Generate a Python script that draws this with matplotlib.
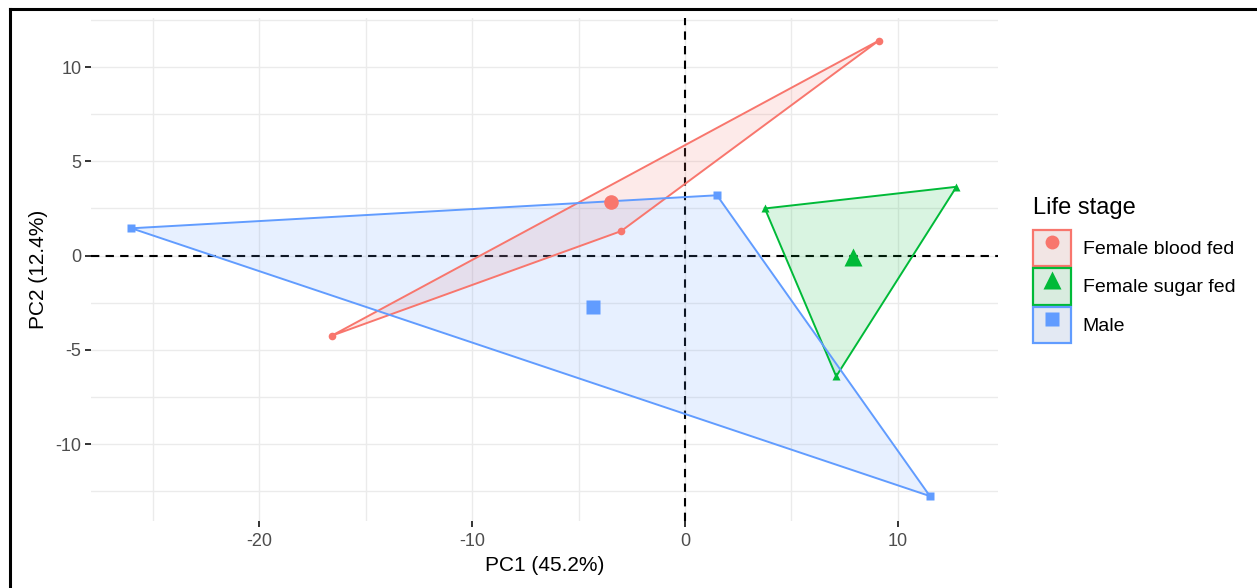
import matplotlib
matplotlib.use("Agg")
import matplotlib.pyplot as plt
from matplotlib.patches import Patch, Polygon
from matplotlib.lines import Line2D
from matplotlib.legend_handler import HandlerTuple

plt.rcParams['font.family'] = ['Liberation Sans', 'DejaVu Sans']
plt.rcParams['axes.unicode_minus'] = False

groups = ["Female blood fed", "Female sugar fed", "Male"]
colors = ["#F8766D", "#00BA38", "#619CFF"]
markers = ["o", "^", "s"]

blood_x = [9.1, -3.0, -16.6]
blood_y = [11.4, 1.3, -4.25]
sugar_x = [3.75, 12.75, 7.1]
sugar_y = [2.5, 3.65, -6.4]
male_x = [-26.0, 1.5, 11.5]
male_y = [1.45, 3.2, -12.75]

centroid_x = [-3.5, 7.9, -4.3]
centroid_y = [2.85, -0.05, -2.7]

xs = [blood_x, sugar_x, male_x]
ys = [blood_y, sugar_y, male_y]

fig = plt.figure(figsize=(12.57, 5.88), dpi=100)
ax = fig.add_axes([91/1257, 1-520.6/588, (998-91)/1257, (520.6-18)/588])

ax.set_xlim(-27.9, 14.7)
ax.set_ylim(-14.05, 12.6)
ax.set_xticks([-20, -10, 0, 10])
ax.set_yticks([-10, -5, 0, 5, 10])
ax.set_xticks([-25, -15, -5, 5], minor=True)
ax.set_yticks([-12.5, -7.5, -2.5, 2.5, 7.5, 12.5], minor=True)
ax.grid(True, which='major', color='#EBEBEB', lw=1.0)
ax.grid(True, which='minor', color='#EBEBEB', lw=1.0)
ax.set_axisbelow(True)
for s in ax.spines.values():
    s.set_visible(False)
ax.tick_params(which='major', length=4, width=1.4, color='#333333',
               labelcolor='#4D4D4D', labelsize=13, pad=3)
ax.tick_params(axis='x', which='major', pad=5)
ax.tick_params(which='minor', length=0)

ax.axhline(0, color='black', ls=(0, (4, 3)), lw=1.5, zorder=1.5)
ax.axvline(0, color='black', ls=(0, (4, 3)), lw=1.5, zorder=1.5)

for gx, gy, c in zip(xs, ys, colors):
    poly = Polygon(list(zip(gx, gy)), closed=True, facecolor=c, alpha=0.15,
                   edgecolor='none', zorder=2)
    ax.add_patch(poly)
    edge = Polygon(list(zip(gx, gy)), closed=True, facecolor='none',
                   edgecolor=c, lw=1.4, zorder=2.1)
    ax.add_patch(edge)

small_sizes = [5.5, 6.0, 5.5]
big_sizes = [10.5, 12.5, 10.0]
for gx, gy, cx, cy, c, m, ss, bs in zip(xs, ys, centroid_x, centroid_y,
                                         colors, markers, small_sizes, big_sizes):
    ax.plot(gx, gy, ls='none', marker=m, ms=ss, color=c, mec='none', zorder=3)
    ax.plot([cx], [cy], ls='none', marker=m, ms=bs, color=c, mec='none', zorder=3.5)

ax.set_xlabel("PC1 (45.2%)", fontsize=15, color='black', labelpad=4)
ax.set_ylabel("PC2 (12.4%)", fontsize=15, color='black', labelpad=5)

handles = []
leg_ms = [10.0, 13.0, 10.0]
for c, m, lms in zip(colors, markers, leg_ms):
    bg = Patch(facecolor='#F2F2F2', edgecolor='none')
    fg = Patch(facecolor=c, alpha=0.10, edgecolor='none')
    ed = Patch(facecolor='none', edgecolor=c, lw=1.6)
    mk = Line2D([], [], ls='none', marker=m, ms=lms, color=c, mec='none')
    handles.append((bg, fg, ed, mk))

leg = fig.legend(handles, groups, handler_map={tuple: HandlerTuple(ndivide=1, pad=0)},
                 loc='center left', bbox_to_anchor=(1033/1257, 1-270/588),
                 frameon=False, fontsize=14, title="Life stage", title_fontsize=17,
                 handlelength=1.95, handleheight=2.5, labelspacing=0.1,
                 handletextpad=0.6, borderaxespad=0, borderpad=0)
leg._legend_box.align = "left"
leg._legend_box.sep = 8

# figure border (left and top visible)
fig.add_artist(Line2D([9.5/1257, 9.5/1257], [0, 1-8.5/588], color='black', lw=2.2,
                      transform=fig.transFigure))
fig.add_artist(Line2D([9.5/1257, 1], [1-8.5/588, 1-8.5/588], color='black', lw=2.2,
                      transform=fig.transFigure))

fig.savefig("out.png", dpi=100)
